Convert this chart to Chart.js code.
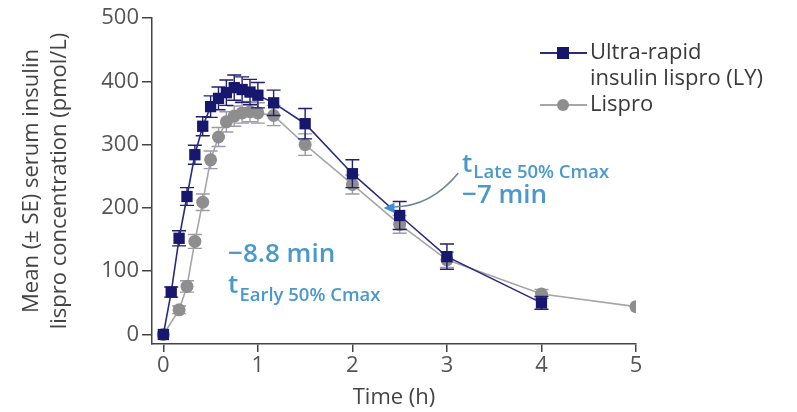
<!DOCTYPE html>
<html><head><meta charset="utf-8">
<script src="https://cdn.jsdelivr.net/npm/chart.js@4/dist/chart.umd.min.js"></script>
<style>html,body{margin:0;padding:0;background:#fff}#wrap{width:797px;height:412px;position:relative}</style>
</head><body><div id="wrap"><canvas id="c" width="797" height="412"></canvas></div>
<script>
// ---- data (time in minutes, concentration in pmol/L) ----
const timeMinLY      = [0, 5, 10, 15, 20, 25, 30, 35, 40, 45, 50, 55, 60, 70, 90, 120, 150, 180, 240];
const valuesLY       = [0, 67, 152, 218, 284, 329, 360, 373, 382, 390, 387, 383, 378, 366, 333, 254, 188, 123, 50];
const seLY           = [0, 8, 12, 14, 15, 15, 17, 18, 20, 20, 20, 20, 20, 20, 24, 22, 22, 20, 10];
const timeMinLispro  = [0, 10, 15, 20, 25, 30, 35, 40, 45, 50, 55, 60, 70, 90, 120, 150, 180, 240, 300];
const valuesLispro   = [0, 39, 76, 147, 209, 276, 312, 336, 345, 350, 352, 350, 346, 300, 237, 174, 118, 64, 44];
const seLispro       = [0, 6, 9, 11, 13, 14, 15, 16, 16, 16, 16, 16, 16, 17, 15, 14, 12, 7, 0];
const xTickValues    = [0, 1, 2, 3, 4, 5];
const yTickValues    = [0, 100, 200, 300, 400, 500];
const seriesLabels   = [['Ultra-rapid', 'insulin lispro (LY)'], ['Lispro']];
const annoEarly      = {value: '\u22128.8 min', sub: 'Early 50% Cmax'};
const annoLate       = {value: '\u22127 min', sub: 'Late 50% Cmax'};

const toPts = (t, v) => t.map((m, i) => ({x: m / 60, y: v[i]}));
const seByDataset = [seLY, seLispro];

const FONT = "'Open Sans', 'Noto Sans', sans-serif";
const BLUE = '#17176e';
const GRAY = '#8e8e8e';
const ANNO = '#4b98cb';

const errorBars = {
  id: 'errorBars',
  beforeDatasetDraw(chart, args) {
    const ds = chart.data.datasets[args.index];
    const se = seByDataset[args.index];
    const xs = chart.scales.x, ys = chart.scales.y, ctx = chart.ctx;
    ctx.save();
    ctx.strokeStyle = ds.errColor;
    ctx.lineWidth = 1.4;
    ds.data.forEach((p, i) => {
      if (!se[i]) return;
      const px = xs.getPixelForValue(p.x);
      const t = ys.getPixelForValue(p.y + se[i]);
      const b = ys.getPixelForValue(p.y - se[i]);
      ctx.beginPath();
      ctx.moveTo(px, t); ctx.lineTo(px, b);
      ctx.moveTo(px - 7, t); ctx.lineTo(px + 7, t);
      ctx.moveTo(px - 7, b); ctx.lineTo(px + 7, b);
      ctx.stroke();
    });
    ctx.restore();
  }
};

function drawT(ctx, x, y, sub, subDy) {
  ctx.font = '600 26px ' + FONT;
  ctx.fillText('t', x, y);
  const w = ctx.measureText('t').width;
  ctx.font = '600 18.5px ' + FONT;
  ctx.fillText(sub, x + w + 1, y + subDy);
}

const annotations = {
  id: 'annotations',
  afterDraw(chart) {
    const xs = chart.scales.x, ys = chart.scales.y, ctx = chart.ctx;
    const P = (t, v) => [xs.getPixelForValue(t), ys.getPixelForValue(v)];
    ctx.save();
    ctx.fillStyle = ANNO;
    ctx.textBaseline = 'alphabetic';
    ctx.textAlign = 'left';
    let [x1, y1] = P(0.685, 114);
    ctx.font = '600 26px ' + FONT;
    ctx.fillText(annoEarly.value, x1, y1);
    let [x2, y2] = P(0.685, 65);
    drawT(ctx, x2, y2, annoEarly.sub, 8);
    let [x3, y3] = P(3.16, 257);
    drawT(ctx, x3, y3, annoLate.sub, 6);
    ctx.font = '600 26px ' + FONT;
    let [x4, y4] = P(3.16, 208);
    ctx.fillText(annoLate.value, x4, y4);
    const [sx, sy] = P(3.12, 255);
    const [cx, cy] = P(2.82, 200);
    const [tx, ty] = P(2.33, 200);
    ctx.strokeStyle = '#6f8597';
    ctx.lineWidth = 1.6;
    ctx.beginPath();
    ctx.moveTo(sx, sy);
    ctx.quadraticCurveTo(cx, cy, tx + 8, ty - 1);
    ctx.stroke();
    const ang = Math.atan2(ty - cy, tx - cx);
    ctx.fillStyle = '#3a8fd8';
    ctx.beginPath();
    ctx.moveTo(tx, ty);
    ctx.lineTo(tx - 12 * Math.cos(ang - 0.45), ty - 12 * Math.sin(ang - 0.45));
    ctx.lineTo(tx - 12 * Math.cos(ang + 0.45), ty - 12 * Math.sin(ang + 0.45));
    ctx.closePath();
    ctx.fill();
    ctx.restore();
  }
};

const customLegend = {
  id: 'customLegend',
  afterDraw(chart) {
    const ctx = chart.ctx;
    const rows = [53, 105];
    ctx.save();
    chart.data.datasets.forEach((ds, i) => {
      const y = rows[i];
      ctx.strokeStyle = ds.borderColor;
      ctx.lineWidth = 2;
      ctx.beginPath(); ctx.moveTo(540, y); ctx.lineTo(587, y); ctx.stroke();
      ctx.fillStyle = ds.pointBackgroundColor;
      ctx.beginPath();
      if (ds.pointStyle === 'rect') ctx.rect(557, y - 6, 12, 12);
      else ctx.arc(563, y, 6, 0, Math.PI * 2);
      ctx.fill();
      ctx.fillStyle = '#3a3a3a';
      ctx.font = '22px ' + FONT;
      ctx.textBaseline = 'middle';
      seriesLabels[i].forEach((line, j) => ctx.fillText(line, 590, y + j * 26));
    });
    ctx.restore();
  }
};

new Chart(document.getElementById('c'), {
  type: 'line',
  data: {
    datasets: [
      {
        label: seriesLabels[0].join(' '),
        data: toPts(timeMinLY, valuesLY),
        borderColor: '#2b2b7e', borderWidth: 1.6,
        pointStyle: 'rect', pointRadius: 8, pointHoverRadius: 8,
        pointBackgroundColor: BLUE, pointBorderColor: BLUE, pointBorderWidth: 0,
        errColor: '#1f1f6e', tension: 0
      },
      {
        label: seriesLabels[1].join(' '),
        data: toPts(timeMinLispro, valuesLispro),
        borderColor: '#a6a6a6', borderWidth: 1.6,
        pointStyle: 'circle', pointRadius: 6.5, pointHoverRadius: 6.5,
        pointBackgroundColor: GRAY, pointBorderColor: GRAY, pointBorderWidth: 0,
        errColor: '#9d98ab', tension: 0
      }
    ]
  },
  options: {
    responsive: false, animation: false, devicePixelRatio: 1,
    layout: {padding: {left: 0, right: 161, top: 18, bottom: 0}},
    plugins: {legend: {display: false}, tooltip: {enabled: false}},
    scales: {
      x: {
        type: 'linear', min: -0.12, max: 5,
        afterBuildTicks: s => { s.ticks = xTickValues.map(v => ({value: v})); },
        afterFit: s => { s.height = 68; },
        grid: {drawOnChartArea: false, tickLength: 8, color: '#444', lineWidth: 1.5},
        border: {color: '#444', width: 1.5},
        ticks: {font: {family: FONT, size: 22}, color: '#555', padding: 1, maxRotation: 0},
        title: {display: true, text: 'Time (h)', font: {family: FONT, size: 22}, color: '#444', padding: {top: 0, bottom: 1}}
      },
      y: {
        type: 'linear', min: -15, max: 500,
        afterBuildTicks: s => { s.ticks = yTickValues.map(v => ({value: v})); },
        afterFit: s => { s.width = 152; },
        grid: {drawOnChartArea: false, tickLength: 10, color: '#444', lineWidth: 1.5},
        border: {color: '#444', width: 1.5},
        ticks: {font: {family: FONT, size: 22}, color: '#555', padding: 3},
        title: {display: true, text: ['Mean (\u00b1 SE) serum insulin', 'lispro concentration (pmol/L)'],
                font: {family: FONT, size: 22, lineHeight: 1.27}, color: '#444', padding: {top: 18, bottom: 0}}
      }
    }
  },
  plugins: [errorBars, annotations, customLegend]
});
</script></body></html>
